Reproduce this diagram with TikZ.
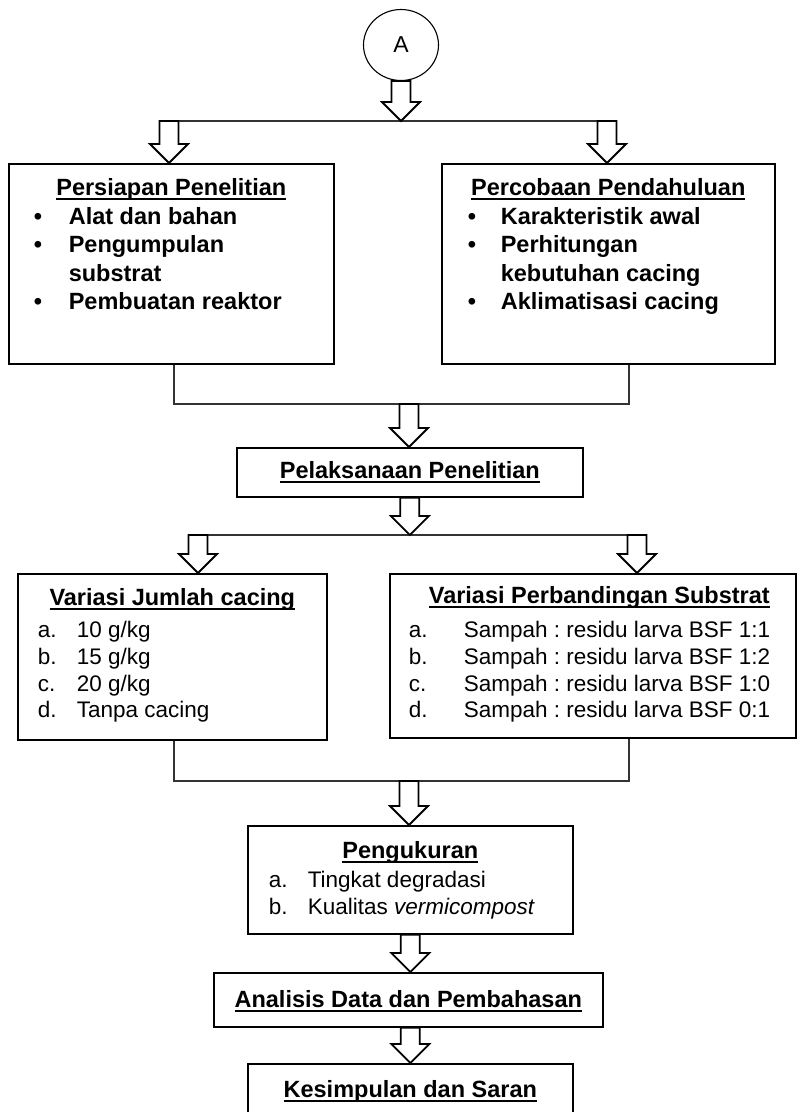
\documentclass[tikz,border=0pt]{standalone}
\usepackage{fontspec}
\setmainfont{Liberation Sans}
\usetikzlibrary{calc,shapes.geometric}
\frenchspacing

% judul bergaris bawah tebal
\newcommand{\judul}[1]{\setbox0\hbox{\fontsize{23.5}{28.5}\selectfont\bfseries #1}\rlap{\rule[-4.5pt]{\wd0}{2.4pt}}\box0}
% satu baris daftar: indentasi, lebar label, label
\newcommand{\butir}[3]{\par\hspace*{#1}\makebox[#2][l]{#3}}
% panah blok dari #1 ke ujung #2
\newcommand{\panah}[2]{%
  \draw[blok] let \p1=(#1), \p2=(#2) in
    (\x1-9.5,\y1) -- (\x1-9.5,\y2+19) -- (\x1-19,\y2+19) -- (\x1,\y2)
    -- (\x1+19,\y2+19) -- (\x1+9.5,\y2+19) -- (\x1+9.5,\y1) -- cycle;}

\begin{document}
\begin{tikzpicture}[x=1pt, y=-1pt,
    kotak/.style={draw, line width=1.6pt, inner sep=0pt, anchor=north west},
    atas/.style={kotak, font=\fontsize{23.5}{28.5}\selectfont\bfseries},
    bawah/.style={kotak, font=\fontsize{22.5}{26.7}\selectfont},
    garis/.style={line width=1.4pt, draw=black!80},
    blok/.style={line width=1.8pt, fill=white, line join=miter}]

    \useasboundingbox (0,0) rectangle (797,1112);
    \clip (0,0) rectangle (797,1112);

    % lingkaran A
    \node[draw, ellipse, line width=1.1pt, minimum width=75, minimum height=71, inner sep=0pt,
          font=\fontsize{23}{26}\selectfont] (A) at (401,45) {A};

    % titik cabang
    \coordinate (c1) at (401,121);
    \coordinate (t1a) at (169,121);
    \coordinate (t1b) at (607,121);
    \coordinate (c2) at (409,404);
    \coordinate (c3) at (409,535);
    \coordinate (t3a) at (198,535);
    \coordinate (t3b) at (637,535);
    \coordinate (c4) at (409,781);

    % kotak persiapan dan percobaan
    \node[atas] (siap) at (8,163) {\parbox[c][200pt][t]{325pt}{\raggedright
        {\centering\rule{0pt}{32pt}\judul{Persiapan Penelitian}\par}
        \butir{25pt}{35pt}{\textbullet}Alat dan bahan
        \butir{25pt}{35pt}{\textbullet}Pengumpulan
        \butir{25pt}{35pt}{}substrat
        \butir{25pt}{35pt}{\textbullet}Pembuatan reaktor}};
    \node[atas] (coba) at (441,163) {\parbox[c][200pt][t]{333pt}{\raggedright
        {\centering\rule{0pt}{32pt}\judul{Percobaan Pendahuluan}\par}
        \butir{26pt}{33pt}{\textbullet}Karakteristik awal
        \butir{26pt}{33pt}{\textbullet}Perhitungan
        \butir{26pt}{33pt}{}kebutuhan cacing
        \butir{26pt}{33pt}{\textbullet}Aklimatisasi cacing}};

    % pelaksanaan
    \node[atas] (laksana) at (236,447) {\parbox[c][49pt][t]{346pt}{%
        \centering\rule{0pt}{31pt}\judul{Pelaksanaan Penelitian}}};

    % kotak variasi
    \node[bawah] (jumlah) at (17,573) {\parbox[c][166pt][t]{309pt}{\raggedright
        {\centering\rule{0pt}{32pt}\judul{Variasi Jumlah cacing}\par}
        \vspace{5.3pt}
        \butir{20pt}{39pt}{a.}10 g/kg
        \butir{20pt}{39pt}{b.}15 g/kg
        \butir{20pt}{39pt}{c.}20 g/kg
        \butir{20pt}{39pt}{d.}Tanpa cacing}};
    \node[bawah] (banding) at (389,573) {\parbox[c][164pt][t]{406pt}{\raggedright
        {\centering\hspace*{13pt}\rule{0pt}{30pt}\judul{Variasi Perbandingan Substrat}\par}
        \vspace{7.3pt}
        \butir{19pt}{55pt}{a.}Sampah : residu larva BSF 1:1
        \butir{19pt}{55pt}{b.}Sampah : residu larva BSF 1:2
        \butir{19pt}{55pt}{c.}Sampah : residu larva BSF 1:0
        \butir{19pt}{55pt}{d.}Sampah : residu larva BSF 0:1}};

    % pengukuran, analisis, kesimpulan
    \node[bawah] (ukur) at (247,825) {\parbox[c][108pt][t]{325pt}{\raggedright
        {\centering\rule{0pt}{33pt}\judul{Pengukuran}\par}
        \vspace{2.3pt}
        \butir{21pt}{39pt}{a.}Tingkat degradasi
        \butir{21pt}{39pt}{b.}Kualitas \textit{vermicompost}}};
    \node[bawah] (analisis) at (213,972) {\parbox[c][54pt][t]{389pt}{%
        \centering\rule{0pt}{35pt}\judul{Analisis Data dan Pembahasan}}};
    \node[bawah] (simpul) at (247,1063) {\parbox[c][80pt][t]{325pt}{%
        \centering\rule{0pt}{34pt}\judul{Kesimpulan dan Saran}}};

    % garis penghubung
    \draw[garis] ([xshift=-9.5pt]t1a) -- ([xshift=9.5pt]t1b);
    \draw[garis] ([xshift=2.5pt]siap.south) |- (c2) -| ([xshift=20.5pt]coba.south);
    \draw[garis] ([xshift=-9.5pt]t3a) -- ([xshift=9.5pt]t3b);
    \draw[garis] ([xshift=1.5pt]jumlah.south) |- (c4) -| ([xshift=36pt]banding.south);

    % panah blok
    \panah{A.south}{c1}
    \panah{t1a}{t1a |- siap.north}
    \panah{t1b}{t1b |- coba.north}
    \panah{c2}{c2 |- laksana.north}
    \panah{laksana.south}{c3}
    \panah{t3a}{t3a |- jumlah.north}
    \panah{t3b}{t3b |- banding.north}
    \panah{c4}{c4 |- ukur.north}
    \panah{ukur.south}{ukur.south |- analisis.north}
    \panah{simpul.north |- analisis.south}{simpul.north}
\end{tikzpicture}
\end{document}
